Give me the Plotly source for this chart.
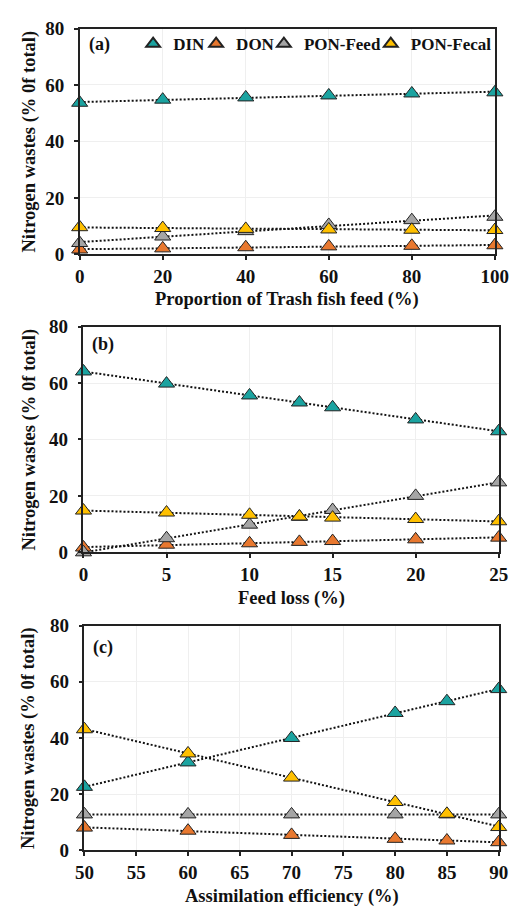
import numpy as np
import plotly.graph_objects as go

# ---------------- data ----------------
series_names = ["DIN", "DON", "PON-Feed", "PON-Fecal"]
colors = ["#1BA3A0", "#E8782F", "#A5A5A5", "#FFC000"]

x_a = [0, 20, 40, 60, 80, 100]
din_a = [53.7, 54.8, 55.6, 56.3, 57.0, 57.4]
don_a = [1.7, 2.1, 2.5, 2.8, 3.0, 3.2]
feed_a = [4.0, 6.3, 8.2, 10.4, 12.1, 13.3]
fecal_a = [9.6, 9.3, 9.0, 8.8, 8.7, 8.6]

x_b = [0, 5, 10, 13, 15, 20, 25]
din_b = [64.1, 59.8, 55.6, 53.1, 51.4, 47.1, 42.9]
don_b = [1.7, 2.7, 3.2, 3.7, 4.0, 4.6, 5.2]
feed_b = [0.0, 5.0, 9.8, 12.6, 15.0, 20.0, 24.8]
fecal_b = [14.8, 14.1, 13.3, 12.7, 12.3, 11.8, 11.0]

x_c = [50, 60, 70, 80, 85, 90]
din_c = [22.6, 31.3, 40.0, 48.9, 53.1, 57.4]
don_c = [8.1, 7.0, 5.5, 4.1, 3.5, 2.9]
feed_c = [12.8, 12.8, 12.8, 12.8, 12.8, 12.8]
fecal_c = [43.1, 34.5, 25.9, 17.2, 13.0, 8.3]

x_titles = ["Proportion of Trash fish feed (%)", "Feed loss (%)", "Assimilation efficiency (%)"]
y_title = "Nitrogen wastes (% 0f total)"
panel_labels = ["(a)", "(b)", "(c)"]
x_ranges = [[0, 100], [0, 25], [50, 90]]
x_ticks = [[0, 20, 40, 60, 80, 100], [0, 5, 10, 15, 20, 25], [50, 55, 60, 65, 70, 75, 80, 85, 90]]
y_ticks = [0, 20, 40, 60, 80]

panels = [
    (x_a, [din_a, don_a, feed_a, fecal_a]),
    (x_b, [din_b, don_b, feed_b, fecal_b]),
    (x_c, [din_c, don_c, feed_c, fecal_c]),
]

# ---------------- layout geometry (pixels) ----------------
W, H = 527, 919
boxes = [(73, 508, 19, 250), (77, 512, 324, 555), (78, 512, 630, 860)]
xtitle_y = [296, 602, 907]
label_pos = [(94, 35), (97, 342), (97, 652)]
legend_text_start = [170, 236, 307, 419]   # where each legend label starts (px)
legend_ids = ["legend", "legend2", "legend3", "legend4"]

FONT = "Liberation Serif"
INK = "#111111"

fig = go.Figure()

for i, (xs, ys_list) in enumerate(panels):
    xa = "x" if i == 0 else f"x{i+1}"
    ya = "y" if i == 0 else f"y{i+1}"
    xarr = np.array(xs, dtype=float)
    for j, ys in enumerate(ys_list):
        k, b = np.polyfit(xarr, np.array(ys, dtype=float), 1)
        fig.add_trace(go.Scatter(
            x=[xarr.min(), xarr.max()], y=[k * xarr.min() + b, k * xarr.max() + b],
            mode="lines", line=dict(color=INK, width=2, dash="2px,2px"),
            xaxis=xa, yaxis=ya, showlegend=False, hoverinfo="skip", cliponaxis=False,
        ))
    for j, ys in enumerate(ys_list):
        fig.add_trace(go.Scatter(
            x=xs, y=ys, mode="markers", name=series_names[j],
            marker=dict(symbol="triangle-up", size=14, color=colors[j],
                        line=dict(color="#222222", width=1)),
            xaxis=xa, yaxis=ya, showlegend=(i == 0), legend=legend_ids[j],
            cliponaxis=False,
        ))

axis_common = dict(
    showline=True, linecolor="#222222", linewidth=1.5, mirror=True,
    ticks="outside", ticklen=4, tickwidth=1.5, tickcolor="#222222",
    showgrid=True, gridcolor="#EFEFEF", gridwidth=1, zeroline=False,
    tickfont=dict(family=FONT, size=19, color=INK, weight="bold"),
)

for i, (l, r, t, btm) in enumerate(boxes):
    xk = "xaxis" if i == 0 else f"xaxis{i+1}"
    yk = "yaxis" if i == 0 else f"yaxis{i+1}"
    ya = "y" if i == 0 else f"y{i+1}"
    xa = "x" if i == 0 else f"x{i+1}"
    fig.layout[xk] = dict(axis_common, domain=[l / W, r / W], range=x_ranges[i],
                          tickvals=x_ticks[i], anchor=ya)
    fig.layout[yk] = dict(axis_common, domain=[1 - btm / H, 1 - t / H], range=[0, 80],
                          tickvals=y_ticks, anchor=xa, ticklabelstandoff=6)
    fig.add_annotation(text=f"<b>{x_titles[i]}</b>", xref="paper", yref="paper",
                       x=(l + r) / 2 / W, y=1 - xtitle_y[i] / H, showarrow=False,
                       font=dict(family=FONT, size=18.5, color=INK),
                       xanchor="center", yanchor="middle")
    fig.add_annotation(text=f"<b>{y_title}</b>", xref="paper", yref="paper",
                       x=20 / W, y=1 - (t + btm) / 2 / H, showarrow=False, textangle=-90,
                       font=dict(family=FONT, size=18.5, color=INK),
                       xanchor="center", yanchor="middle")
    fig.add_annotation(text=f"<b>{panel_labels[i]}</b>", xref="paper", yref="paper",
                       x=label_pos[i][0] / W, y=1 - label_pos[i][1] / H, showarrow=False,
                       font=dict(family=FONT, size=18, color=INK),
                       xanchor="center", yanchor="middle")

legend_common = dict(
    orientation="h", yanchor="middle", xanchor="left",
    font=dict(family=FONT, size=17, color=INK, weight="bold"),
    bgcolor="rgba(0,0,0,0)", itemwidth=30, borderwidth=0, itemsizing="constant",
)
layout_legends = {}
for j, lid in enumerate(legend_ids):
    layout_legends[lid] = dict(legend_common, x=(legend_text_start[j] - 41) / W, y=1 - 35 / H)

fig.update_layout(
    width=W, height=H, margin=dict(l=0, r=0, t=0, b=0),
    paper_bgcolor="white", plot_bgcolor="white",
    showlegend=True, **layout_legends,
)

fig.write_html("out.html", config={"displayModeBar": False},
               post_script="document.body.style.margin='0';document.body.style.overflow='hidden';")
